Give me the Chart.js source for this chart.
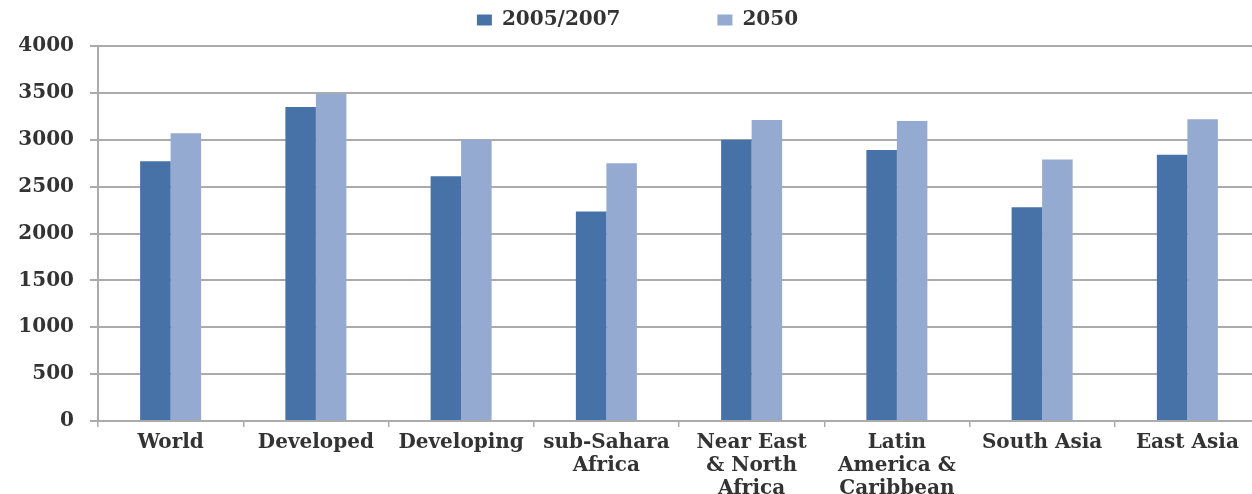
<!DOCTYPE html>
<html>
<head>
<meta charset="utf-8">
<script src="https://cdn.jsdelivr.net/npm/chart.js@4"></script>
<style>
  html, body { margin: 0; padding: 0; background: #fff; overflow: hidden; }
  #wrap { width: 1260px; height: 504px; }
</style>
</head>
<body>
<div id="wrap"><canvas id="foodChart" width="1260" height="504"></canvas></div>
<script>
// Regions (multi-line labels as arrays)
const regions = [
  'World', 'Developed', 'Developing', ['sub-Sahara', 'Africa'],
  ['Near East', '& North', 'Africa'], ['Latin', 'America &', 'Caribbean'],
  'South Asia', 'East Asia'
];
const seriesNames = ['2005/2007', '2050'];
const base2005 = [2770, 3350, 2610, 2235, 3000, 2890, 2280, 2840];
const proj2050 = [3070, 3490, 3000, 2750, 3210, 3200, 2790, 3220];
const yTicks = [0, 500, 1000, 1500, 2000, 2500, 3000, 3500, 4000];

const serif = "'DejaVu Serif', 'Liberation Serif', serif";
const gridGray = '#ababab';
const textColor = '#333333';

// Extra space between legend and plot area
const legendGap = {
  id: 'legendGap',
  beforeInit(chart) {
    const fit = chart.legend.fit;
    chart.legend.fit = function() {
      fit.bind(chart.legend)();
      this.height += 6;
    };
  }
};

const ctx = document.getElementById('foodChart').getContext('2d');
new Chart(ctx, {
  type: 'bar',
  data: {
    labels: regions,
    datasets: [
      {
        label: seriesNames[0],
        data: base2005,
        backgroundColor: '#4672a8',
        categoryPercentage: 0.42,
        barPercentage: 1.0
      },
      {
        label: seriesNames[1],
        data: proj2050,
        backgroundColor: '#94aad1',
        categoryPercentage: 0.42,
        barPercentage: 1.0
      }
    ]
  },
  options: {
    responsive: false,
    animation: false,
    layout: {padding: {top: -6, right: 0, left: 15, bottom: 0}},
    plugins: {
      legend: {
        position: 'top',
        labels: {
          boxWidth: 15,
          boxHeight: 11,
          padding: 16,
          color: textColor,
          font: {family: serif, size: 20, weight: 'bold'},
          // widen the gap after the first entry
          generateLabels(chart) {
            const items = Chart.defaults.plugins.legend.labels.generateLabels(chart);
            items[0].text = items[0].text + '\u2003\u2003\u2003   ';
            return items;
          }
        }
      },
      tooltip: {enabled: false}
    },
    scales: {
      x: {
        grid: {
          display: true,
          drawOnChartArea: false,
          offset: true,
          tickLength: 6,
          color: gridGray,
          lineWidth: 1.5
        },
        border: {color: gridGray, width: 2},
        ticks: {
          color: textColor,
          padding: 4,
          maxRotation: 0,
          autoSkip: false,
          font: {family: serif, size: 20, weight: 'bold', lineHeight: 1.15}
        }
      },
      y: {
        min: 0,
        max: 4000,
        afterFit(scale) { scale.width = 83; },
        afterBuildTicks(scale) { scale.ticks = yTicks.map(v => ({value: v})); },
        grid: {color: gridGray, lineWidth: 2, tickLength: 8},
        border: {color: gridGray, width: 2},
        ticks: {
          color: textColor,
          padding: 16,
          callback: v => String(v),
          font: {family: serif, size: 20, weight: 'bold'}
        }
      }
    }
  },
  plugins: [legendGap]
});
</script>
</body>
</html>
